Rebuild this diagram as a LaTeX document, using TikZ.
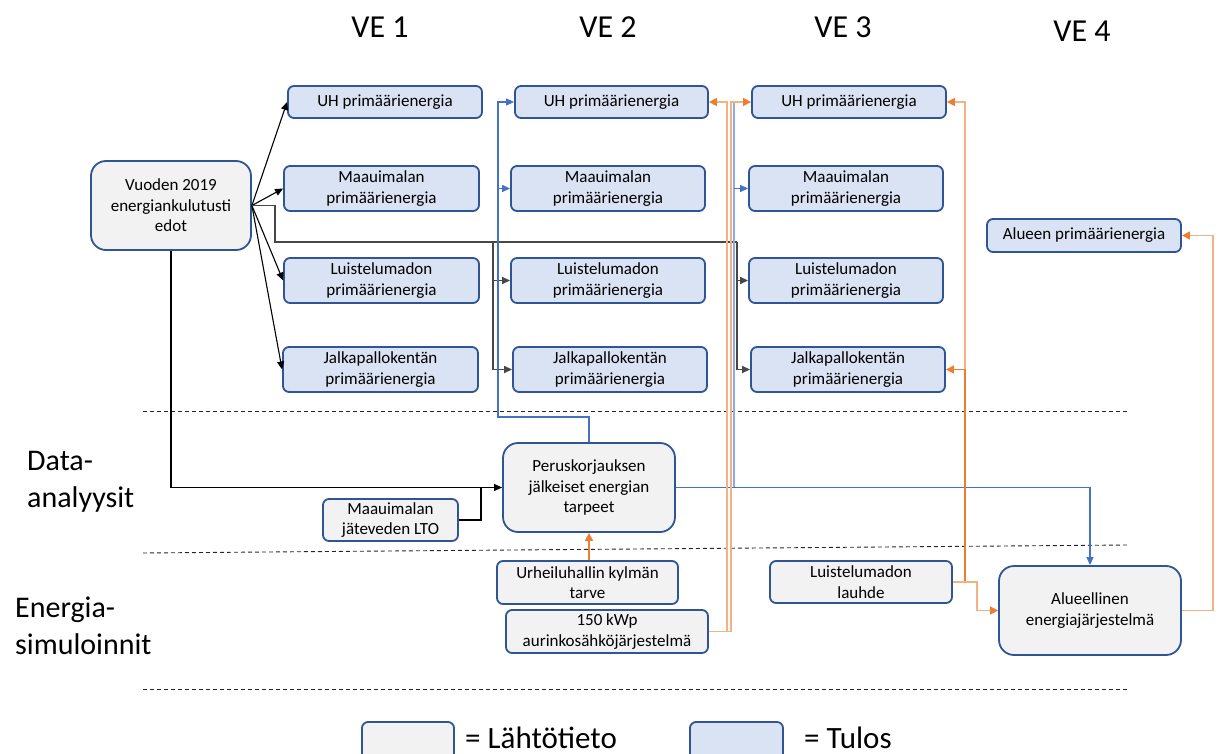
\documentclass[tikz,border=0pt]{standalone}
\usepackage{fontspec}
\setmainfont{Carlito}
\usetikzlibrary{arrows.meta,calc}
\definecolor{bord}{HTML}{2F5597}
\definecolor{resfill}{HTML}{DAE3F3}
\definecolor{infill}{HTML}{F2F2F2}
\definecolor{lblue}{HTML}{4472C4}
\definecolor{pblue}{HTML}{8FAADC}
\definecolor{dor}{HTML}{ED7D31}
\definecolor{por}{HTML}{F4B183}
\begin{document}
\begin{tikzpicture}[x=1pt,y=-1pt,
 bx/.style={draw=bord, line width=1.8pt, rounded corners=6pt, inner sep=0pt, align=center, font=\fontsize{17}{20.5}\selectfont},
 res/.style={bx, fill=resfill},
 inp/.style={bx, fill=infill},
 bigr/.style={rounded corners=15pt},
 hdr/.style={font=\fontsize{32}{38}\selectfont, inner sep=0pt},
 leg/.style={font=\fontsize{31}{37}\selectfont, inner sep=0pt},
 side/.style={font=\fontsize{30}{37}\selectfont, inner sep=0pt, anchor=north west, align=left},
 tip/.style={-{Triangle[length=8pt,width=7pt]}},
 bline/.style={draw=black, line width=1.1pt},
 gline/.style={draw=black!72, line width=1.4pt},
 blline/.style={draw=lblue, line width=1.2pt},
 plline/.style={draw=pblue, line width=1.4pt},
 pline/.style={draw=por, line width=1.5pt},
 dline/.style={draw=dor, line width=1.6pt},
 otip/.style={-{Triangle[length=8pt,width=8pt,color=dor]}},
 btip/.style={-{Triangle[length=8pt,width=7pt,color=lblue]}},
 sep/.style={draw=black!85, line width=0.9pt, dash pattern=on 4pt off 3pt}
]
\useasboundingbox (0,0) rectangle (1221,754);
\clip (0,0) rectangle (1221,754);

% headers
\node[hdr, anchor=base] (h1) at (380,38) {VE 1};
\node[hdr, anchor=base] (h2) at (608,38) {VE 2};
\node[hdr, anchor=base] (h3) at (843,38) {VE 3};
\node[hdr, anchor=base] (h4) at (1082,42) {VE 4};

% side labels
\node[side] (s1) at (27,451) {Data-\\analyysit};
\node[side] (s2) at (15,597) {Energia-\\simuloinnit};

% separators
\draw[sep] (143,411) -- (1128,411);
\draw[sep] (143,553) -- (1128,545);
\draw[sep] (143,689) -- (1128,689);

% source
\node[inp, bigr, minimum width=160pt, minimum height=89pt] (src) at (171,205.5) {Vuoden 2019\\energiankulutusti\\edot};

% VE1
\node[res, minimum width=194pt, minimum height=32pt] (a1) at (385,102) {UH primäärienergia};
\node[res, minimum width=195pt, minimum height=45pt] (a2) at (381.5,188.5) {Maauimalan\\primäärienergia};
\node[res, minimum width=195pt, minimum height=45pt] (a3) at (381.5,280.5) {Luistelumadon\\primäärienergia};
\node[res, minimum width=195pt, minimum height=45pt] (a4) at (380.5,369.5) {Jalkapallokentän\\primäärienergia};
% VE2
\node[res, minimum width=193pt, minimum height=32pt] (b1) at (611.5,102) {UH primäärienergia};
\node[res, minimum width=194pt, minimum height=45pt] (b2) at (608,188.5) {Maauimalan\\primäärienergia};
\node[res, minimum width=194pt, minimum height=45pt] (b3) at (608,280.5) {Luistelumadon\\primäärienergia};
\node[res, minimum width=194pt, minimum height=45pt] (b4) at (610,369.5) {Jalkapallokentän\\primäärienergia};
% VE3
\node[res, minimum width=194pt, minimum height=32pt] (c1) at (849,102) {UH primäärienergia};
\node[res, minimum width=194pt, minimum height=45pt] (c2) at (846,188.5) {Maauimalan\\primäärienergia};
\node[res, minimum width=194pt, minimum height=45pt] (c3) at (846,280.5) {Luistelumadon\\primäärienergia};
\node[res, minimum width=194pt, minimum height=45pt] (c4) at (848,369.5) {Jalkapallokentän\\primäärienergia};
% VE4
\node[res, minimum width=194pt, minimum height=33pt] (d1) at (1084,235.5) {Alueen primäärienergia};

% middle / lower
\node[inp, bigr, minimum width=172pt, minimum height=89pt] (peru) at (589,487.5) {Peruskorjauksen\\jälkeiset energian\\tarpeet};
\node[inp, minimum width=135pt, minimum height=42pt] (lto) at (390.5,520) {Maauimalan\\jäteveden LTO};
\node[inp, minimum width=181pt, minimum height=43pt] (urh) at (587.5,582.5) {Urheiluhallin kylmän\\tarve};
\node[inp, minimum width=202pt, minimum height=43pt] (sol) at (607,631.5) {150 kWp\\aurinkosähköjärjestelmä};
\node[inp, minimum width=182pt, minimum height=42pt] (lau) at (861,582) {Luistelumadon\\lauhde};
\node[inp, bigr, minimum width=182pt, minimum height=89pt] (alue) at (1090,610.5) {Alueellinen\\energiajärjestelmä};

% legend
\node[inp, minimum width=92pt, minimum height=40pt] (l1) at (408,742) {};
\node[leg, anchor=base west] (t1) at (465,748) {= Lähtötieto};
\node[res, minimum width=93pt, minimum height=40pt] (l2) at (736.5,742) {};
\node[leg, anchor=base west] (t2) at (804,748) {= Tulos};

% junction coordinates
\coordinate (jA) at (275,242);
\coordinate (jB) at (493,242);
\coordinate (jC) at (737,242);
\coordinate (jL) at (481,487.5);
\coordinate (bL) at (498,417);
\coordinate (bR) at (734,487.5);
\coordinate (bT) at (734,102);
\coordinate (o1) at (727,102);
\coordinate (o2) at (731,102);
\coordinate (o3) at (965,369.5);
\coordinate (o4) at (965,102);
\coordinate (o5) at (977,582);
\coordinate (o6) at (1213,235.5);

% black: source to VE1
\draw[bline, tip] (src.east) -- (a1.west);
\draw[bline, tip] (src.east) -- (a2.west);
\draw[bline, tip] (src.east) -- (a3.west);
\draw[bline, tip] (src.east) -- (a4.west);

% grey trunk to VE2/VE3
\draw[gline] (src.east) -| (jA) -- (jC);
\draw[gline, tip] (jB) |- (b4.west);
\draw[gline, tip] (jB |- b3.west) -- (b3.west);
\draw[gline, tip] (jC) |- (c4.west);
\draw[gline, tip] (jC |- c3.west) -- (c3.west);

% source down to peruskorjaus, LTO
\draw[bline, tip] (src.south) |- (peru.west);
\draw[bline] (lto.east) -| (jL);

% blue
\draw[blline, btip] (peru.north) |- (bL) |- (b1.west);
\draw[blline, btip] (bL |- b2.west) -- (b2.west);
\draw[plline] (bR) -- (bT);
\draw[blline, btip] (bR |- c2.west) -- (c2.west);
\draw[blline, btip] (peru.east) -| (alue.north);

% orange
\draw[pline, otip] (sol.east) -| (o1) -- (b1.east);
\draw[pline, otip] (sol.east) -| (o2) -- (c1.west);
\draw[pline, otip] (lau.east) -| (o4) -- (c1.east);
\draw[dline, otip] (lau.east) -| (o3) -- (c4.east);
\draw[pline, otip] (lau.east) -- (o5) |- (alue.west);
\draw[pline, otip] (alue.east) -| (o6) -- (d1.east);
\draw[dline, otip] (urh.north -| peru.south) -- (peru.south);
\end{tikzpicture}
\end{document}
